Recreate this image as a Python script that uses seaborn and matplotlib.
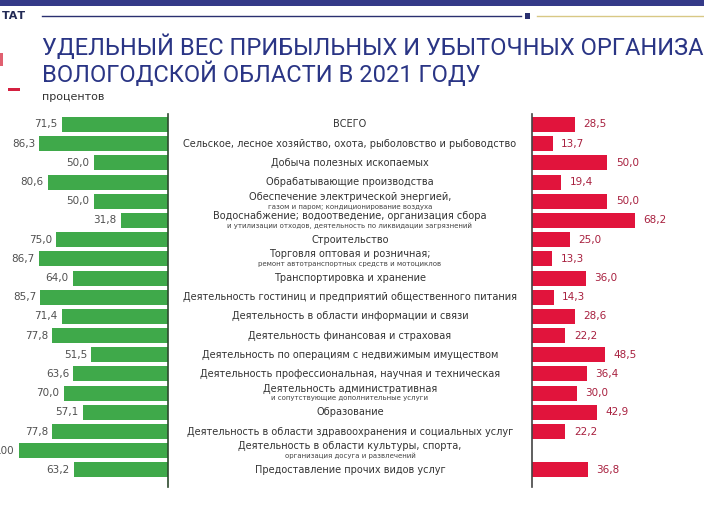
import matplotlib
matplotlib.use("Agg")
import matplotlib.pyplot as plt
import numpy as np
import pandas as pd
import seaborn as sns
from matplotlib.lines import Line2D
from matplotlib.patches import Rectangle

# data
categories = [
    "ВСЕГО",
    "Сельское, лесное хозяйство, охота, рыболовство и рыбоводство",
    "Добыча полезных ископаемых",
    "Обрабатывающие производства",
    "Обеспечение электрической энергией,",
    "Водоснабжение; водоотведение, организация сбора",
    "Строительство",
    "Торговля оптовая и розничная;",
    "Транспортировка и хранение",
    "Деятельность гостиниц и предприятий общественного питания",
    "Деятельность в области информации и связи",
    "Деятельность финансовая и страховая",
    "Деятельность по операциям с недвижимым имуществом",
    "Деятельность профессиональная, научная и техническая",
    "Деятельность административная",
    "Образование",
    "Деятельность в области здравоохранения и социальных услуг",
    "Деятельность в области культуры, спорта,",
    "Предоставление прочих видов услуг",
]
sublabels = [
    "", "", "", "",
    "газом и паром; кондиционирование воздуха",
    "и утилизации отходов, деятельность по ликвидации загрязнений",
    "",
    "ремонт автотранспортных средств и мотоциклов",
    "", "", "", "", "", "",
    "и сопутствующие дополнительные услуги",
    "", "",
    "организация досуга и развлечений",
    "",
]
profitable = [71.5, 86.3, 50.0, 80.6, 50.0, 31.8, 75.0, 86.7, 64.0, 85.7,
              71.4, 77.8, 51.5, 63.6, 70.0, 57.1, 77.8, 100.0, 63.2]
unprofitable = [28.5, 13.7, 50.0, 19.4, 50.0, 68.2, 25.0, 13.3, 36.0, 14.3,
                28.6, 22.2, 48.5, 36.4, 30.0, 42.9, 22.2, 0.0, 36.8]

df = pd.DataFrame({"cat": categories, "profit": profitable, "loss": unprofitable})

green = "#3FA94A"
red = "#E1143C"
navy = "#2A3585"

fig = plt.figure(figsize=(7.04, 5.12), dpi=100)
W, H = 704, 512

def fx(px):
    return px / W

def fy(py):
    return 1 - py / H

ax_bottom = fy(487)
ax_h = fy(114) - ax_bottom
axl = fig.add_axes([0, ax_bottom, fx(168), ax_h])
axr = fig.add_axes([fx(532), ax_bottom, fx(704 - 532), ax_h])

sns.barplot(data=df, x="profit", y="cat", ax=axl, color=green, orient="h",
            width=0.78, saturation=1, edgecolor="none")
sns.barplot(data=df, x="loss", y="cat", ax=axr, color=red, orient="h",
            width=0.78, saturation=1, edgecolor="none")

axl.set_xlim(112.8, 0)
axr.set_xlim(0, 114)
for ax in (axl, axr):
    ax.set_ylim(18.89, -0.547)
    ax.set_xlabel("")
    ax.set_ylabel("")
    ax.set_xticks([])
    ax.set_yticks([])
    ax.patch.set_alpha(0)
    for s in ax.spines.values():
        s.set_visible(False)
axl.spines["right"].set_visible(True)
axl.spines["right"].set_color("#2E4A2E")
axl.spines["right"].set_linewidth(1.2)
axr.spines["left"].set_visible(True)
axr.spines["left"].set_color("#444444")
axr.spines["left"].set_linewidth(1.2)

def fmt(v):
    if v >= 100:
        return "100"
    return f"{v:.1f}".replace(".", ",")

for i, v in enumerate(profitable):
    axl.annotate(fmt(v), xy=(v, i), xytext=(-3, 0), textcoords="offset points",
                 ha="right", va="center", fontsize=7.5, color="#505050",
                 annotation_clip=False)
for i, v in enumerate(unprofitable):
    if v > 0:
        axr.annotate(fmt(v), xy=(v, i), xytext=(6, 0), textcoords="offset points",
                     ha="left", va="center", fontsize=7.5, color="#A8203F",
                     annotation_clip=False)

# category labels in the middle
for i, (lab, sub) in enumerate(zip(categories, sublabels)):
    if sub:
        axl.annotate(lab, xy=(0.497, i), xycoords=(fig.transFigure, axl.transData),
                     xytext=(0, 3.2), textcoords="offset points", ha="center",
                     va="center", fontsize=7, color="#333333", annotation_clip=False)
        axl.annotate(sub, xy=(0.497, i), xycoords=(fig.transFigure, axl.transData),
                     xytext=(0, -3.8), textcoords="offset points", ha="center",
                     va="center", fontsize=5, color="#444444", annotation_clip=False)
    else:
        axl.annotate(lab, xy=(0.497, i), xycoords=(fig.transFigure, axl.transData),
                     ha="center", va="center", fontsize=7, color="#333333",
                     annotation_clip=False)

# header decoration
fig.add_artist(Rectangle((0, fy(6)), 1, fy(0) - fy(6), transform=fig.transFigure,
                         color="#343A88", lw=0))
fig.add_artist(Line2D([fx(42), fx(521)], [fy(16), fy(16)], transform=fig.transFigure,
                      color="#2A3070", lw=1))
fig.add_artist(Rectangle((fx(525), fy(19)), fx(5), fy(13) - fy(19),
                         transform=fig.transFigure, color="#2A3070", lw=0))
fig.add_artist(Line2D([fx(537), fx(704)], [fy(16), fy(16)], transform=fig.transFigure,
                      color="#D8C885", lw=1))
fig.add_artist(Rectangle((0, fy(66)), fx(3), fy(53) - fy(66),
                         transform=fig.transFigure, color="#E06070", lw=0))
fig.add_artist(Rectangle((fx(8), fy(91)), fx(12), fy(88) - fy(91),
                         transform=fig.transFigure, color="#D42040", lw=0))

fig.text(fx(2), fy(16), "ТАТ", ha="left", va="center", fontsize=8,
         fontweight="bold", color="#222A55")
fig.text(fx(42), fy(47), "УДЕЛЬНЫЙ ВЕС ПРИБЫЛЬНЫХ И УБЫТОЧНЫХ ОРГАНИЗАЦИЙ",
         ha="left", va="center", fontsize=17, color=navy, family="Roboto")
fig.text(fx(42), fy(74), "ВОЛОГОДСКОЙ ОБЛАСТИ В 2021 ГОДУ",
         ha="left", va="center", fontsize=17, color=navy, family="Roboto")
fig.text(fx(42), fy(97), "процентов", ha="left", va="center", fontsize=8,
         color="#333333")

fig.savefig("out.png", dpi=100)
